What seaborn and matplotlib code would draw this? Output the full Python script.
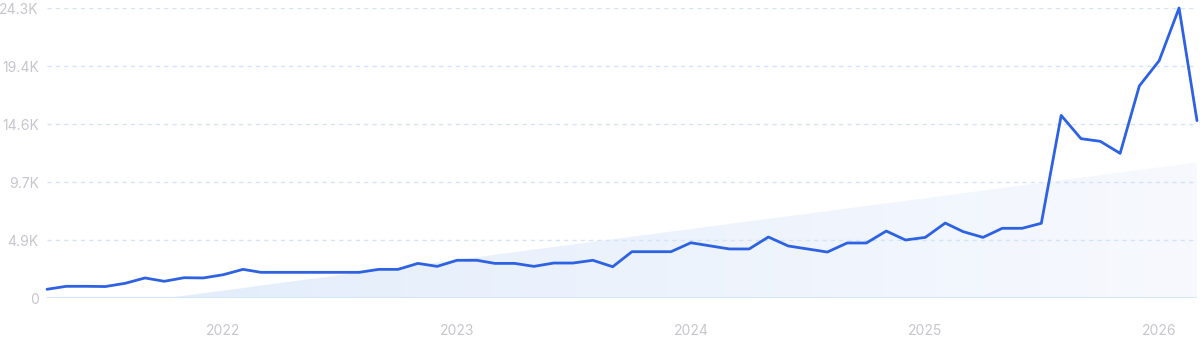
import numpy as np
import pandas as pd
import matplotlib
matplotlib.use("Agg")
import matplotlib.pyplot as plt
import matplotlib.dates as mdates
from matplotlib.colors import LinearSegmentedColormap
import seaborn as sns

# ---- data ----
start_month = "2021-04-01"
values = [730, 980, 980, 960, 1230, 1680, 1400, 1700, 1680, 1950,
          2400, 2150, 2150, 2150, 2150, 2150, 2150, 2400, 2400, 2900,
          2650, 3160, 3160, 2900, 2900, 2650, 2930, 2930, 3160, 2620,
          3880, 3880, 3880, 4630, 4360, 4110, 4110, 5110, 4360, 4110,
          3850, 4610, 4610, 5610, 4860, 5080, 6280, 5560, 5080, 5840,
          5840, 6260, 15300, 13350, 13130, 12120, 17770, 19890, 24300, 14860]
trend_start, trend_end = -1320, 11370
y_ticks = [0, 4860, 9720, 14580, 19440, 24300]
y_tick_labels = ["0", "4.9K", "9.7K", "14.6K", "19.4K", "24.3K"]
year_ticks = ["2022", "2023", "2024", "2025", "2026"]

dates = pd.date_range(start_month, periods=len(values), freq="MS")
df = pd.DataFrame({"date": dates, "value": values})
trend = np.linspace(trend_start, trend_end, len(values))
trend_clip = np.clip(trend, 0, None)

sns.set_theme(style="white")
plt.rcParams["font.family"] = ["Inter", "DejaVu Sans"]

fig = plt.figure(figsize=(12, 3.43), dpi=100)
ax = fig.add_axes([47/1200, 45/343, 1150/1200, 290/343])

xnum = mdates.date2num(dates)

# gradient trend area
poly = ax.fill_between(dates, 0, trend_clip, color="none", lw=0, zorder=1)
cmap = LinearSegmentedColormap.from_list("g", ["#e1ecfb", "#f7f9fe"])
grad = np.linspace(0, 1, 256).reshape(1, -1)
im = ax.imshow(grad, cmap=cmap, aspect="auto",
               extent=[xnum[0], xnum[-1], 0, 24300], zorder=1, origin="lower")
path = poly.get_paths()[0]
im.set_clip_path(path, transform=ax.transData)

# grid lines
for yt in y_ticks[1:]:
    ax.axhline(yt, color="#d2e3fa", lw=1, ls=(0, (3, 3)), zorder=2)
ax.axhline(0, color="#d3e6fb", lw=1.5, zorder=2)

sns.lineplot(data=df, x="date", y="value", ax=ax, color="#2d62e3",
             linewidth=2.0, zorder=3, clip_on=False)

ax.set_xlim(xnum[0], xnum[-1])
ax.set_ylim(0, 24300)
ax.set_yticks(y_ticks)
ax.set_yticklabels(y_tick_labels)
ax.set_xticks([mdates.date2num(pd.Timestamp(f"{y}-01-01")) for y in year_ticks])
ax.set_xticklabels(year_ticks)
ax.tick_params(axis="both", length=0, labelsize=10, colors="#c6c6cd")
ax.tick_params(axis="y", pad=6)
ax.tick_params(axis="x", pad=19)
ax.set_xlabel("")
ax.set_ylabel("")
for s in ax.spines.values():
    s.set_visible(False)
ax.grid(False)

fig.savefig("out.png", dpi=100, facecolor="white")
